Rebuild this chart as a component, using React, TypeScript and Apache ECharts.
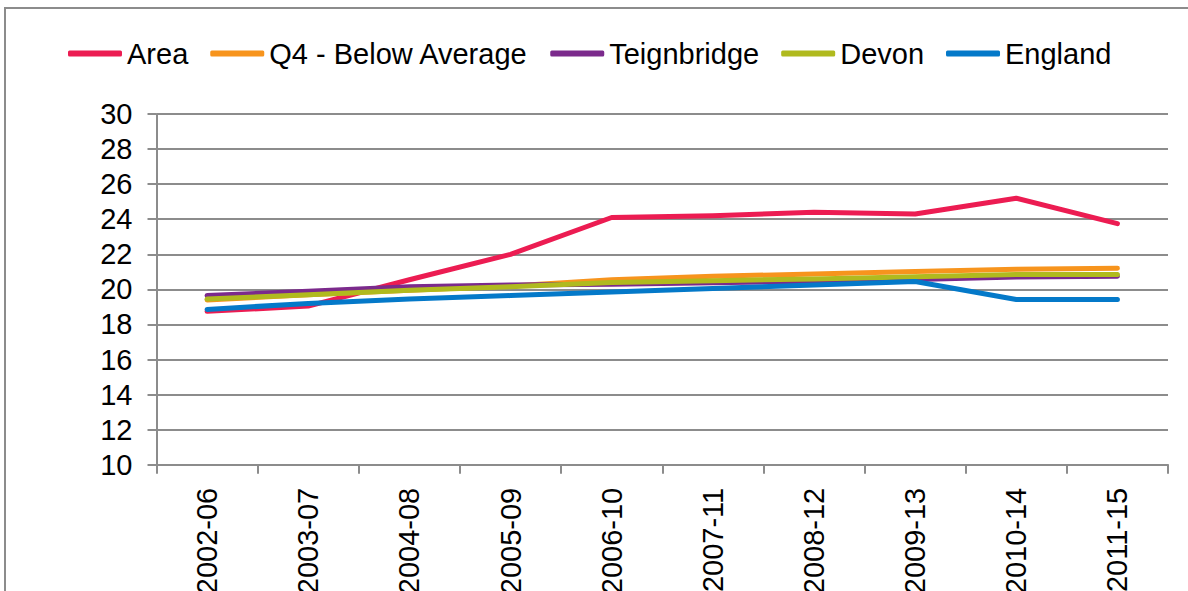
import React, { useEffect, useRef } from "react";
import * as echarts from "echarts";

const categories = ["2002-06", "2003-07", "2004-08", "2005-09", "2006-10", "2007-11", "2008-12", "2009-13", "2010-14", "2011-15"];
const areaValues = [18.75, 19.05, 20.55, 22.0, 24.1, 24.2, 24.4, 24.3, 25.2, 23.75];
const q4Values = [19.4, 19.7, 19.95, 20.2, 20.55, 20.75, 20.88, 21.02, 21.15, 21.2];
const teignbridgeValues = [19.65, 19.9, 20.15, 20.25, 20.3, 20.38, 20.47, 20.57, 20.7, 20.75];
const devonValues = [19.45, 19.7, 19.95, 20.15, 20.4, 20.5, 20.6, 20.72, 20.85, 20.85];
const englandValues = [18.86, 19.2, 19.45, 19.65, 19.85, 20.05, 20.25, 20.45, 19.42, 19.42];

const seriesNames = ["Area", "Q4 - Below Average", "Teignbridge", "Devon", "England"];
const seriesColors = ["#EC1C52", "#F7941D", "#7B2A8C", "#B0BA1E", "#0479C9"];
const seriesData = [areaValues, q4Values, teignbridgeValues, devonValues, englandValues];

const FONT = "'Liberation Sans', Arial, sans-serif";

export default function App() {
  const ref = useRef<HTMLDivElement>(null);
  useEffect(() => {
    if (!ref.current) return;
    const chart = echarts.init(ref.current, null, { renderer: "svg" });
    chart.setOption({
      animation: false,
      backgroundColor: "#ffffff",
      textStyle: { fontFamily: FONT },
      graphic: [
        {
          type: "rect",
          shape: { x: 5, y: 8, width: 1200, height: 600 },
          style: { fill: "none", stroke: "#8c8c8c", lineWidth: 2 },
          silent: true,
        },
      ],
      legend: {
        left: 63,
        top: 34,
        itemWidth: 54,
        itemHeight: 6,
        itemGap: 22,
        icon: "roundRect",
        textStyle: { fontSize: 29, color: "#000", fontFamily: FONT },
        data: seriesNames,
      },
      grid: {
        left: 156.5,
        right: 20,
        top: 114,
        bottom: 126.2,
        containLabel: false,
        outerBoundsMode: "none",
      },
      xAxis: {
        type: "category",
        data: categories,
        boundaryGap: true,
        axisLine: { lineStyle: { color: "#8c8c8c", width: 2 } },
        axisTick: { show: true, length: 9, lineStyle: { color: "#8c8c8c", width: 2 } },
        axisLabel: { rotate: 90, fontSize: 29, color: "#000", margin: 23, fontFamily: FONT, interval: 0 },
        splitLine: { show: false },
      },
      yAxis: {
        type: "value",
        min: 10,
        max: 30,
        interval: 2,
        axisLine: { show: true, lineStyle: { color: "#8c8c8c", width: 2 } },
        axisTick: { show: true, length: 9, lineStyle: { color: "#8c8c8c", width: 2 } },
        axisLabel: { fontSize: 29, color: "#000", margin: 24, fontFamily: FONT },
        splitLine: { show: true, lineStyle: { color: "#8c8c8c", width: 2 } },
      },
      series: seriesNames.map((name, i) => ({
        name,
        type: "line",
        data: seriesData[i],
        symbol: "none",
        color: seriesColors[i],
        lineStyle: { width: 5, color: seriesColors[i], cap: "round", join: "round" },
        itemStyle: { color: seriesColors[i] },
        z: 2 + i,
      })),
    });
    return () => chart.dispose();
  }, []);
  return (
    <div
      ref={ref}
      style={{ position: "fixed", left: 0, top: 0, width: 1188, height: 591 }}
    />
  );
}
